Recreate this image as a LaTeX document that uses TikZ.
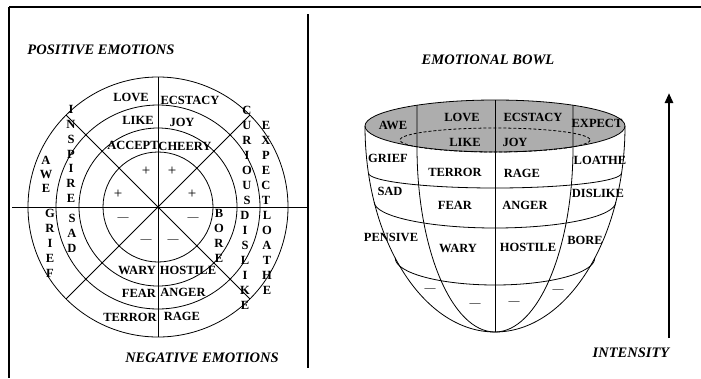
\documentclass[tikz,border=0pt]{standalone}
\usepackage{fontspec}
\setmainfont{Liberation Serif}
\usetikzlibrary{arrows.meta}

\tikzset{
  lbl/.style={font=\bfseries\fontsize{12.5}{14}\selectfont, inner sep=0pt},
  vword/.style={font=\bfseries\fontsize{12.5}{#1}\selectfont, align=center, inner sep=0pt},
  vword/.default=15,
  heading/.style={font=\bfseries\itshape\fontsize{14.5}{16}\selectfont, inner sep=0pt},
  possign/.style={font=\fontsize{15}{16}\selectfont, inner sep=0pt},
  negsign/.style={font=\fontsize{11}{12}\selectfont, inner sep=0pt},
  rimfill/.style={fill=black!32},
  intensity arrow/.style={line width=2.8pt, -{Triangle[length=10pt,width=8pt]}}
}

\begin{document}
\begin{tikzpicture}[x=1pt, y=-1pt, line width=0.8pt]
    \useasboundingbox (0,0) rectangle (701,378);

    % Frame
    \draw[line width=2.5pt] (9,7) -- (701,7);
    \draw[line width=2pt] (9,7) -- (9,378);
    \draw[line width=1.5pt] (308,14) -- (308,368);

    % Emotion wheel
    \coordinate (wc) at (158,207);
    \foreach \r in {55,79,102,130}
        \draw (wc) circle[radius=\r];
    \draw (12,207) -- (307,207);
    \draw (158,77) -- (158,337);
    \foreach \a in {45,135,225,315}
        \draw (wc) -- ++(\a:130);
    \fill (wc) circle[radius=1.5];

    % Wheel labels
    \node[heading] (pos) at (101,50) {POSITIVE EMOTIONS};
    \node[heading] (neg) at (202,358) {NEGATIVE EMOTIONS};

    \node[lbl] (love) at (131,97) {LOVE};
    \node[lbl] (ecstacy) at (190,100) {ECSTACY};
    \node[lbl] (like) at (138,120) {LIKE};
    \node[lbl] (joy) at (182,122) {JOY};
    \node[lbl] (accept) at (133,145) {ACCEPT};
    \node[lbl] (cheery) at (185,146) {CHEERY};
    \node[lbl] (wary) at (137,270) {WARY};
    \node[lbl] (hostile) at (188,270) {HOSTILE};
    \node[lbl] (fear) at (139,293) {FEAR};
    \node[lbl] (anger) at (183,292) {ANGER};
    \node[lbl] (terror) at (130,317) {TERROR};
    \node[lbl] (rage) at (182,316) {RAGE};

    % Vertical words
    \node[vword=14] (awe) at (46,174) {A\\W\\E};
    \node[vword] (grief) at (50,243) {G\\R\\I\\E\\F};
    \node[vword=14.7] (inspire) at (71,154) {I\\N\\S\\P\\I\\R\\E};
    \node[vword] (sad) at (72,233) {S\\A\\D};
    \node[vword] (curious) at (247,155) {C\\U\\R\\I\\O\\U\\S};
    \node[vword] (dislike) at (245,260) {D\\I\\S\\L\\I\\K\\E};
    \node[vword] (expect) at (266,162.5) {E\\X\\P\\E\\C\\T};
    \node[vword] (loathe) at (267,252.5) {L\\O\\A\\T\\H\\E};
    \node[vword] (bore) at (219,235.5) {B\\O\\R\\E};

    % Signs
    \node[possign] (p1) at (146,171) {+};
    \node[possign] (p2) at (172,171) {+};
    \node[possign] (p3) at (118,194) {+};
    \node[possign] (p4) at (192,194) {+};
    \node[negsign] (n1) at (123,219) {—};
    \node[negsign] (n2) at (193,219) {—};
    \node[negsign] (n3) at (146,241) {—};
    \node[negsign] (n4) at (173,241) {—};

    % Emotional bowl
    \node[heading] (bowl) at (488,60) {EMOTIONAL BOWL};
    \fill[rimfill] (495,126) ellipse[x radius=130, y radius=26];
    \draw (495,126) ellipse[x radius=130, y radius=26];
    \draw[dash pattern=on 3pt off 2pt] (495,140) ellipse[x radius=95, y radius=12];
    \draw (365,126) arc[start angle=180, end angle=0, x radius=130, y radius=206];
    \draw (495,100) -- (495,332);
    \draw (417,105) -- (417,147) arc[start angle=180, end angle=90, x radius=78, y radius=185];
    \draw (573,105) -- (573,147) arc[start angle=0, end angle=90, x radius=78, y radius=185];
    \draw (368.4,173) arc[start angle=180, end angle=0, x radius=126.6, y radius=15];
    \draw (374.2,202) arc[start angle=180, end angle=0, x radius=120.8, y radius=26];
    \draw (395.2,258) arc[start angle=180, end angle=0, x radius=99.8, y radius=27];

    % Bowl labels
    \node[lbl] (b-awe) at (393,125) {AWE};
    \node[lbl] (b-love) at (462,117) {LOVE};
    \node[lbl] (b-ecstacy) at (533,117) {ECSTACY};
    \node[lbl] (b-expect) at (597,123) {EXPECT};
    \node[lbl] (b-like) at (465,142) {LIKE};
    \node[lbl] (b-joy) at (515,142) {JOY};
    \node[lbl] (b-grief) at (388,158) {GRIEF};
    \node[lbl] (b-terror) at (455,172) {TERROR};
    \node[lbl] (b-rage) at (522,173) {RAGE};
    \node[lbl] (b-loathe) at (600,160) {LOATHE};
    \node[lbl] (b-sad) at (390,191) {SAD};
    \node[lbl] (b-fear) at (455,205) {FEAR};
    \node[lbl] (b-anger) at (525,205) {ANGER};
    \node[lbl] (b-dislike) at (598,193) {DISLIKE};
    \node[lbl] (b-pensive) at (391,237) {PENSIVE};
    \node[lbl] (b-wary) at (458,248) {WARY};
    \node[lbl] (b-hostile) at (528,247) {HOSTILE};
    \node[lbl] (b-bore) at (585,240) {BORE};
    \node[negsign] (b-n1) at (430,290) {—};
    \node[negsign] (b-n2) at (475,305) {—};
    \node[negsign] (b-n3) at (514,303) {—};
    \node[negsign] (b-n4) at (558,291) {—};

    % Intensity
    \coordinate (arrow-base) at (669,338);
    \coordinate (arrow-tip) at (669,93);
    \draw[intensity arrow] (arrow-base) -- (arrow-tip);
    \node[heading] (intensity) at (631,353) {INTENSITY};
\end{tikzpicture}
\end{document}
